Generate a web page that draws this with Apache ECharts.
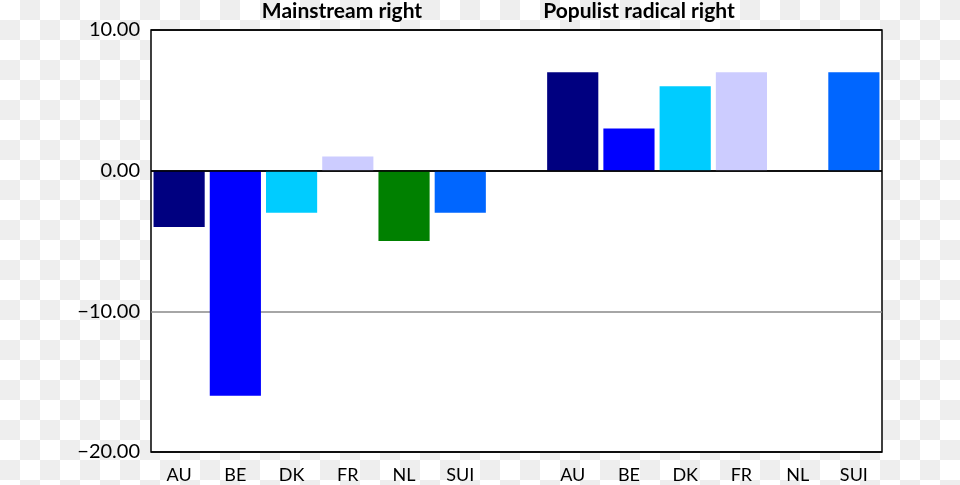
<!DOCTYPE html>
<html>
<head>
<meta charset="utf-8">
<script src="https://cdn.jsdelivr.net/npm/echarts@6/dist/echarts.min.js"></script>
<style>
	html, body {
		margin: 0;
		padding: 0;
	}
	body {
		width: 960px;
		height: 485px;
		background-color: #fff;
		background-image:
			linear-gradient(45deg, #eee 25%, transparent 25%, transparent 75%, #eee 75%),
			linear-gradient(45deg, #eee 25%, transparent 25%, transparent 75%, #eee 75%);
		background-size: 40px 40px;
		background-position: 0 0, 20px 20px;
	}
	#chart {
		width: 960px;
		height: 485px;
	}
</style>
</head>
<body>
<div id="chart"></div>
<script>
// two groups of countries, with an empty slot between them
const categories = ['AU', 'BE', 'DK', 'FR', 'NL', 'SUI', '', 'AU', 'BE', 'DK', 'FR', 'NL', 'SUI'];
const mainstreamRight = [-4, -16, -3, 1, -5, -3];
const populistRadicalRight = [7, 3, 6, 7, 0, 7];
const countryColors = ['#000080', '#0000FF', '#00CCFF', '#CCCCFF', '#008000', '#0066FF'];
const groupTitles = ['Mainstream right', 'Populist radical right'];

const font = 'Lato, "Open Sans", sans-serif';

function fmt(v) {
	return v.toFixed(2).replace('-', '\u2212');
}

const barData = [];
mainstreamRight.forEach((v, i) => barData.push({ value: v, itemStyle: { color: countryColors[i] } }));
barData.push('-');
populistRadicalRight.forEach((v, i) => barData.push({ value: v, itemStyle: { color: countryColors[i] } }));

const chart = echarts.init(document.getElementById('chart'), null, { renderer: 'canvas' });

function titleText(text, x) {
	return {
		type: 'text',
		x: x,
		y: 11,
		style: {
			text: text,
			font: 'bold 21px ' + font,
			fill: '#000',
			textAlign: 'center',
			textVerticalAlign: 'middle',
		},
	};
}

chart.setOption({
	animation: false,
	backgroundColor: 'transparent',
	textStyle: { fontFamily: font },
	grid: {
		left: 151,
		top: 30,
		width: 731,
		height: 422,
		show: true,
		backgroundColor: '#fff',
		borderColor: '#000',
		borderWidth: 1.5,
	},
	graphic: [titleText(groupTitles[0], 342), titleText(groupTitles[1], 639)],
	xAxis: {
		type: 'category',
		data: categories,
		axisLine: { show: false },
		axisTick: { show: false },
		axisLabel: {
			color: '#000',
			fontSize: 18,
			margin: 14,
			interval: 0,
		},
	},
	yAxis: {
		type: 'value',
		min: -20,
		max: 10,
		interval: 10,
		axisLine: { show: false },
		axisTick: { show: false },
		axisLabel: {
			color: '#000',
			fontSize: 20,
			margin: 11,
			formatter: (v) => fmt(v),
		},
		splitLine: {
			lineStyle: {
				color: ['#000', '#888', '#000', '#000'],
				width: 1.5,
			},
		},
	},
	series: [
		{
			type: 'bar',
			data: barData,
			barCategoryGap: '9%',
			z: 1,
			markLine: {
				silent: true,
				symbol: 'none',
				label: { show: false },
				lineStyle: { color: '#000', width: 1.5, type: 'solid' },
				data: [{ yAxis: 0 }],
			},
		},
	],
});
</script>
</body>
</html>
